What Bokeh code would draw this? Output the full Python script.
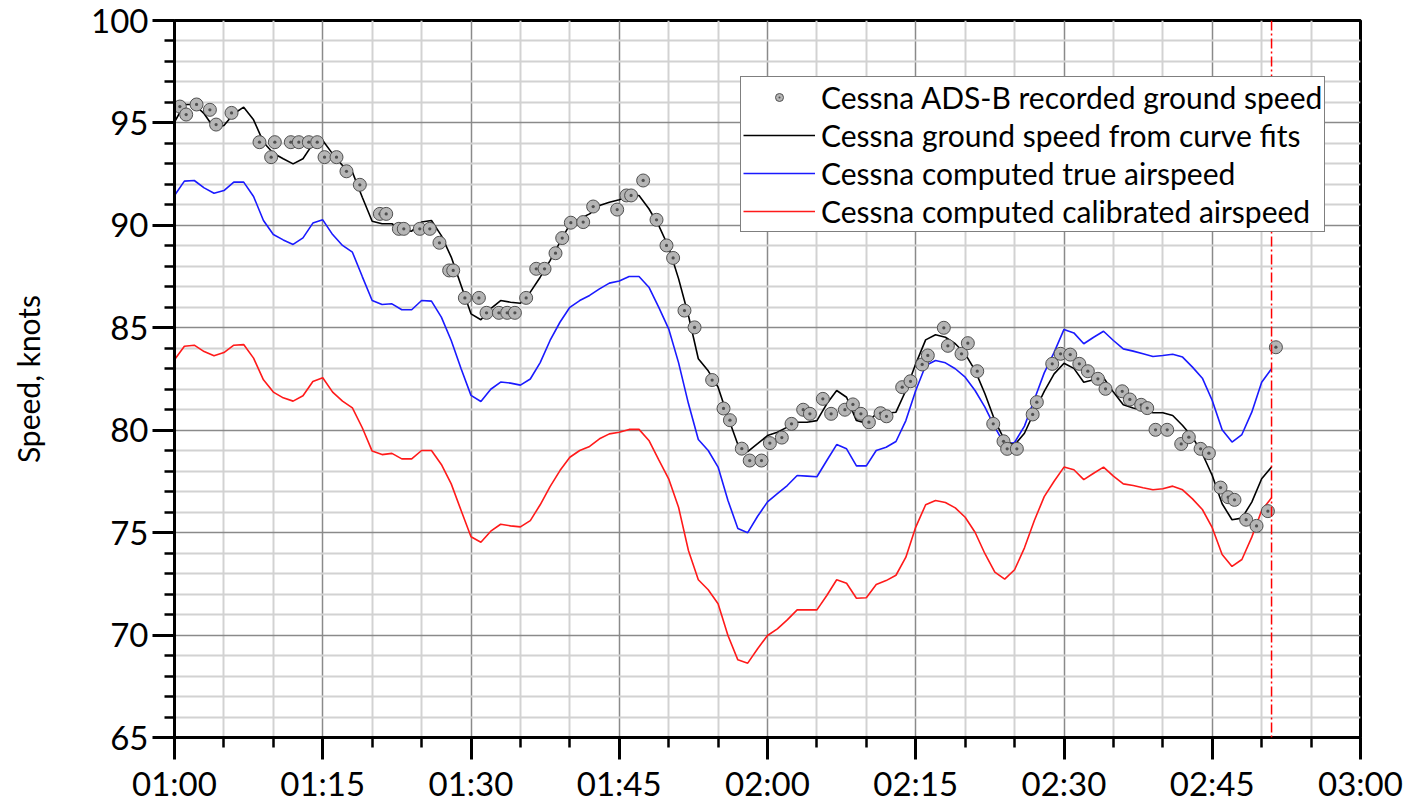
from bokeh.plotting import figure
from bokeh.models import FixedTicker, Span, Legend, LegendItem
from bokeh.embed import file_html
from bokeh.resources import INLINE

FONT = "Lato"

# Time is given in minutes after 01:00
x_tick_minutes = [0, 15, 30, 45, 60, 75, 90, 105, 120]
x_tick_labels = ["01:00", "01:15", "01:30", "01:45", "02:00", "02:15", "02:30", "02:45", "03:00"]
x_minor_minutes = [m for m in range(5, 120, 5) if m % 15]
y_ticks = [65, 70, 75, 80, 85, 90, 95, 100]
y_minor = [v for v in range(66, 100) if v % 5]

# ADS-B recorded ground speed samples (minutes, knots)
adsb_minutes = [0.54, 1.18, 2.23, 3.58, 4.21, 5.77, 8.6, 9.78, 10.15, 11.77, 12.58, 13.59,
                14.44, 15.18, 16.39, 17.4, 18.75, 20.78, 21.42, 22.7, 23.2, 24.82, 25.83,
                26.81, 27.79, 28.2, 29.38, 30.8, 31.57, 32.82, 33.66, 34.44, 35.58, 36.6,
                37.44, 38.55, 39.23, 40.1, 41.35, 42.36, 44.79, 45.73, 46.2, 47.42, 48.77,
                49.78, 50.45, 51.6, 52.62, 54.4, 55.55, 56.2, 57.4, 58.2, 59.39, 60.24,
                61.45, 62.43, 63.61, 64.29, 65.6, 66.44, 67.83, 68.64, 69.45, 70.26, 71.44,
                72.04, 73.63, 74.47, 75.65, 76.22, 77.84, 78.25, 79.63, 80.27, 81.22, 82.84,
                83.88, 84.25, 85.23, 86.83, 87.25, 88.81, 89.65, 90.63, 91.55, 92.41, 93.43,
                94.2, 95.89, 96.66, 97.81, 98.42, 99.26, 100.44, 101.86, 102.63, 103.82,
                104.66, 105.84, 106.61, 107.25, 108.43, 109.48, 110.63, 111.44]
adsb_knots = [95.8, 95.41, 95.9, 95.64, 94.92, 95.49, 94.06, 93.33, 94.06, 94.06, 94.06, 94.06,
              94.06, 93.33, 93.33, 92.64, 91.98, 90.56, 90.56, 89.83, 89.83, 89.83, 89.83,
              89.15, 87.8, 87.8, 86.46, 86.46, 85.73, 85.73, 85.73, 85.73, 86.46, 87.88,
              87.88, 88.64, 89.38, 90.13, 90.16, 90.92, 90.77, 91.46, 91.46, 92.19, 90.27,
              89.02, 88.41, 85.84, 85.02, 82.45, 81.06, 80.49, 79.1, 78.52, 78.52, 79.37,
              79.64, 80.31, 81.0, 80.8, 81.53, 80.8, 81.0, 81.26, 80.8, 80.39, 80.83,
              80.68, 82.1, 82.39, 83.21, 83.65, 85.0, 84.12, 83.73, 84.25, 82.88, 80.31,
              79.46, 79.09, 79.09, 80.77, 81.37, 83.24, 83.73, 83.69, 83.24, 82.88, 82.51,
              82.02, 81.9, 81.5, 81.24, 81.08, 80.02, 80.02, 79.33, 79.66, 79.09,
              78.88, 77.2, 76.73, 76.6, 75.63, 75.33, 76.05, 84.05]

# One-minute samples of the derived speeds
fit_minutes = list(range(0, 112))
ground_fit = [95.04, 95.9, 95.9, 95.45, 94.75, 94.87, 95.45, 95.77, 95.15, 94.06,
              93.52, 93.25, 93.0, 93.25, 93.98, 94.14, 93.49, 92.92, 92.6, 91.37,
              90.2, 90.08, 90.08, 89.75, 89.72, 90.16, 90.24, 89.5, 88.45, 87.06,
              85.68, 85.39, 85.93, 86.33, 86.25, 86.2, 86.74, 87.47, 88.28, 89.18,
              90.05, 90.32, 90.56, 90.97, 91.13, 91.25, 91.46, 91.46, 90.81, 89.99,
              88.93, 87.4, 85.6, 83.49, 82.9, 82.1, 80.64, 79.3, 78.95, 79.34,
              79.74, 79.9, 80.15, 80.39, 80.39, 80.47, 81.29, 81.94, 81.61, 80.47,
              80.34, 80.8, 80.83, 80.88, 81.94, 83.24, 84.41, 84.66, 84.54, 84.22,
              83.73, 82.92, 81.78, 80.47, 79.5, 79.28, 79.85, 80.9, 81.9, 82.75,
              83.27, 83.02, 82.34, 82.46, 82.56, 81.86, 81.24, 81.08, 80.96, 80.85,
              80.85, 80.72, 80.23, 79.66, 78.85, 77.79, 76.41, 75.63, 75.71, 76.49,
              77.63, 78.2]
true_airspeed = [91.46, 92.16, 92.19, 91.83, 91.57, 91.7, 92.11, 92.11, 91.41, 90.24,
                 89.55, 89.29, 89.07, 89.39, 90.11, 90.27, 89.55, 89.02, 88.69, 87.5,
                 86.33, 86.14, 86.17, 85.88, 85.88, 86.33, 86.3, 85.52, 84.38, 83.0,
                 81.7, 81.4, 82.0, 82.35, 82.3, 82.2, 82.5, 83.3, 84.38, 85.27,
                 86.0, 86.33, 86.58, 86.9, 87.18, 87.28, 87.5, 87.5, 86.98, 86.0,
                 84.95, 83.3, 81.3, 79.55, 79.01, 78.2, 76.57, 75.2, 75.0, 75.8,
                 76.5, 76.9, 77.3, 77.79, 77.76, 77.73, 78.52, 79.3, 79.09, 78.26,
                 78.26, 79.01, 79.17, 79.45, 80.47, 81.94, 83.16, 83.4, 83.29, 83.0,
                 82.59, 81.94, 81.13, 80.15, 79.3, 79.4, 80.2, 81.5, 82.8, 83.8,
                 84.92, 84.75, 84.22, 84.54, 84.83, 84.38, 83.97, 83.86, 83.73, 83.6,
                 83.65, 83.71, 83.57, 83.08, 82.54, 81.45, 80.02, 79.42, 79.79, 80.88,
                 82.34, 83.0]
calibrated_airspeed = [83.44, 84.1, 84.15, 83.84, 83.63, 83.79, 84.15, 84.18, 83.52, 82.46,
                       81.86, 81.58, 81.42, 81.68, 82.38, 82.56, 81.86, 81.42, 81.09, 80.12,
                       78.98, 78.81, 78.87, 78.6, 78.6, 79.01, 79.01, 78.33, 77.38, 76.08,
                       74.8, 74.53, 75.07, 75.41, 75.33, 75.28, 75.59, 76.36, 77.25, 78.03,
                       78.68, 79.01, 79.21, 79.58, 79.82, 79.9, 80.04, 80.04, 79.5, 78.55,
                       77.63, 76.24, 74.13, 72.7, 72.21, 71.53, 69.98, 68.79, 68.63, 69.33,
                       69.98, 70.3, 70.74, 71.23, 71.23, 71.23, 71.93, 72.7, 72.53, 71.8,
                       71.82, 72.47, 72.66, 72.92, 73.8, 75.27, 76.36, 76.57, 76.47, 76.21,
                       75.75, 75.02, 73.97, 73.07, 72.73, 73.19, 74.26, 75.59, 76.76, 77.51,
                       78.2, 78.07, 77.59, 77.9, 78.2, 77.76, 77.38, 77.3, 77.19, 77.09,
                       77.14, 77.27, 77.09, 76.65, 76.13, 75.24, 73.93, 73.35, 73.69, 74.78,
                       76.08, 76.7]

marker_minute = 111.0  # 02:51

series_labels = ["Cessna ADS-B recorded ground speed",
                 "Cessna ground speed from curve fits",
                 "Cessna computed true airspeed",
                 "Cessna computed calibrated airspeed"]

p = figure(width=1421, height=809, output_backend="svg", toolbar_location=None,
           x_range=(0, 120), y_range=(65, 100),
           min_border_left=174, min_border_right=61, min_border_top=20, min_border_bottom=72)
p.background_fill_color = "white"
p.border_fill_color = "white"
p.outline_line_color = "black"
p.outline_line_width = 3

xticker = FixedTicker(ticks=x_tick_minutes, minor_ticks=x_minor_minutes)
yticker = FixedTicker(ticks=y_ticks, minor_ticks=y_minor)
p.xaxis.ticker = xticker
p.yaxis.ticker = yticker
p.xgrid.ticker = xticker
p.ygrid.ticker = yticker
p.xaxis.major_label_overrides = dict(zip(x_tick_minutes, x_tick_labels))

for g in (p.xgrid, p.ygrid):
    g.grid_line_color = "#8a8a8a"
    g.grid_line_width = 1.5
    g.minor_grid_line_color = "#d2d2d2"
    g.minor_grid_line_width = 2

for ax in (p.xaxis, p.yaxis):
    ax.axis_line_width = 3
    ax.axis_line_color = "black"
    ax.major_tick_line_width = 3
    ax.minor_tick_line_width = 2.5
    ax.major_tick_out = 22
    ax.major_tick_in = 0
    ax.minor_tick_out = 10
    ax.minor_tick_in = 0
    ax.major_label_text_font = FONT
    ax.major_label_text_font_size = "33px"
    ax.major_label_text_color = "black"

p.xaxis.major_label_standoff = 3
p.yaxis.major_label_standoff = 4
p.yaxis.axis_label = "Speed, knots"
p.yaxis.axis_label_text_font = FONT
p.yaxis.axis_label_text_font_size = "30px"
p.yaxis.axis_label_text_font_style = "normal"
p.yaxis.axis_label_text_color = "black"
p.yaxis.axis_label_standoff = 42

r_cas = p.line(fit_minutes, calibrated_airspeed, line_color="#ff1a1a", line_width=1.6)
r_tas = p.line(fit_minutes, true_airspeed, line_color="#1a1aff", line_width=1.6)
r_fit = p.line(fit_minutes, ground_fit, line_color="black", line_width=1.6)
r_adsb = p.scatter(adsb_minutes, adsb_knots, marker="circle_dot", size=13,
                   fill_color="#b5b5b5", line_color="#505050", line_width=1)

p.add_layout(Span(location=marker_minute, dimension="height", line_color="#ff0000",
                  line_width=1.5, line_dash="10 3 2 3"))

legend = Legend(items=[LegendItem(label=series_labels[0], renderers=[r_adsb]),
                       LegendItem(label=series_labels[1], renderers=[r_fit]),
                       LegendItem(label=series_labels[2], renderers=[r_tas]),
                       LegendItem(label=series_labels[3], renderers=[r_cas])],
                location=(566, 505))
legend.label_text_font = FONT
legend.label_text_font_size = "30px"
legend.label_text_line_height = 1.0
legend.label_text_color = "black"
legend.border_line_color = "black"
legend.border_line_width = 1.5
legend.background_fill_alpha = 1
legend.glyph_width = 72
legend.glyph_height = 20
legend.label_height = 34
legend.label_standoff = 6
legend.padding = 2
legend.spacing = 2
legend.margin = 0
p.add_layout(legend)

open("out.html", "w").write(file_html(p, INLINE))
